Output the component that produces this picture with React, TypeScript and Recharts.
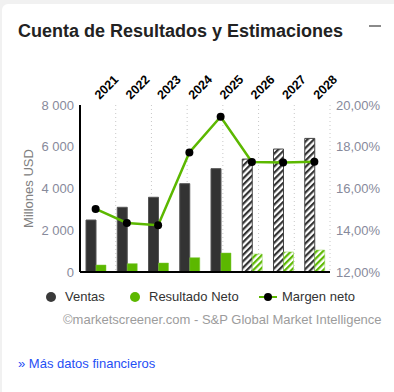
import React from "react";
import {
  ComposedChart,
  Bar,
  Line,
  XAxis,
  YAxis,
  CartesianGrid,
  ReferenceLine,
  Cell,
  Label,
} from "recharts";

const years = ["2021", "2022", "2023", "2024", "2025", "2026", "2027", "2028"];
const ventas = [2490, 3100, 3580, 4230, 4950, 5410, 5890, 6400];
const resultadoNeto = [335, 400, 430, 685, 910, 860, 960, 1050];
const margenNeto = [15.02, 14.35, 14.24, 17.73, 19.44, 17.27, 17.24, 17.28];
const estimated = [false, false, false, false, false, true, true, true];
const leftTicks = [0, 2000, 4000, 6000, 8000];
const rightTicks = [12, 14, 16, 18, 20];
const gridBoundaries = [1, 2, 3, 4, 5, 6, 7];

const data = years.map((y, i) => ({
  year: y,
  ventas: ventas[i],
  neto: resultadoNeto[i],
  margen: margenNeto[i],
  est: estimated[i],
}));

const FONT = "Arial, 'Liberation Sans', sans-serif";

const fmtLeft = (v: number) =>
  v === 0 ? "0" : `${Math.floor(v / 1000)} ${String(v % 1000).padStart(3, "0")}`;
const fmtRight = (v: number) => `${v.toFixed(2).replace(".", ",")}%`;

const YearTick = (props: any) => {
  const { x, y, payload } = props;
  const tx = x + 4;
  return (
    <text
      x={tx}
      y={y}
      transform={`rotate(-45 ${tx} ${y})`}
      textAnchor="start"
      fontFamily={FONT}
      fontWeight="bold"
      fontSize={12.5}
      fill="#000"
    >
      {payload.value}
    </text>
  );
};

export default function App() {
  return (
    <div
      style={{
        position: "absolute",
        left: 0,
        top: 0,
        width: 394,
        height: 392,
        background: "#f1f1f1",
        overflow: "hidden",
        fontFamily: FONT,
      }}
    >
      <div
        style={{
          position: "absolute",
          left: 2,
          top: 4,
          width: 400,
          height: 400,
          background: "#fff",
          borderRadius: 6,
        }}
      />
      <div
        style={{
          position: "absolute",
          left: 18,
          top: 20,
          fontSize: 18,
          fontWeight: "bold",
          color: "#222",
          whiteSpace: "nowrap",
          lineHeight: "22px",
        }}
      >
        Cuenta de Resultados y Estimaciones
      </div>
      <div
        style={{
          position: "absolute",
          left: 369,
          top: 25,
          width: 12,
          height: 2,
          background: "#8a8a8a",
        }}
      />
      <div style={{ position: "absolute", left: 0, top: 0 }}>
        <ComposedChart
          width={394}
          height={280}
          data={data}
          margin={{ top: 75, right: 4, bottom: 8, left: 30 }}
          barGap={0}
        >
          <defs>
            <pattern
              id="hatchDark"
              patternUnits="userSpaceOnUse"
              width="4.5"
              height="4.5"
              patternTransform="rotate(45)"
            >
              <rect width="4.5" height="4.5" fill="#fff" />
              <rect width="2.2" height="4.5" fill="#333" />
            </pattern>
            <pattern
              id="hatchGreen"
              patternUnits="userSpaceOnUse"
              width="4.5"
              height="4.5"
              patternTransform="rotate(45)"
            >
              <rect width="4.5" height="4.5" fill="#fff" />
              <rect width="2.2" height="4.5" fill="#5cb800" />
            </pattern>
          </defs>
          <XAxis
            dataKey="year"
            orientation="top"
            height={30}
            axisLine={false}
            tickLine={false}
            tickSize={0}
            tickMargin={5}
            interval={0}
            tick={<YearTick />}
          />
          <XAxis
            xAxisId="grid"
            type="number"
            domain={[0, years.length]}
            ticks={gridBoundaries}
            hide
          />
          <CartesianGrid
            xAxisId="grid"
            yAxisId="left"
            horizontal={false}
            vertical={true}
            stroke="#c8c8c8"
            strokeDasharray="1 3"
          />
          <YAxis
            yAxisId="left"
            orientation="left"
            width={50}
            domain={[0, 8000]}
            ticks={leftTicks}
            tickFormatter={fmtLeft}
            axisLine={{ stroke: "#000", strokeWidth: 2 }}
            tickLine={false}
            tickSize={0}
            tickMargin={6}
            tick={{ fill: "#878a9b", fontSize: 13, fontFamily: FONT }}
          >
            <Label
              value="Millones USD"
              angle={-90}
              position="insideLeft"
              offset={-2}
              style={{ fill: "#808080", fontSize: 13, fontFamily: FONT, textAnchor: "middle" }}
            />
          </YAxis>
          <YAxis
            yAxisId="right"
            orientation="right"
            width={60}
            domain={[12, 20]}
            ticks={rightTicks}
            tickFormatter={fmtRight}
            axisLine={false}
            tickLine={false}
            tickSize={0}
            tickMargin={6}
            tick={{ fill: "#878a9b", fontSize: 13, fontFamily: FONT, textAnchor: "start" }}
          />
          <Bar
            yAxisId="left"
            dataKey="ventas"
            barSize={10}
            fill="#333"
            isAnimationActive={false}
          >
            {data.map((d, i) => (
              <Cell
                key={`v${i}`}
                fill={d.est ? "url(#hatchDark)" : "#333"}
                stroke={d.est ? "#444" : "#555"}
                strokeWidth={1}
              />
            ))}
          </Bar>
          <Bar
            yAxisId="left"
            dataKey="neto"
            barSize={10}
            fill="#5cb800"
            isAnimationActive={false}
          >
            {data.map((d, i) => (
              <Cell
                key={`n${i}`}
                fill={d.est ? "url(#hatchGreen)" : "#5cb800"}
                stroke={d.est ? "#8fd050" : "#7cc83a"}
                strokeWidth={0.5}
              />
            ))}
          </Bar>
          <ReferenceLine yAxisId="left" y={0} stroke="#000" strokeWidth={2} />
          <Line
            yAxisId="right"
            dataKey="margen"
            type="linear"
            stroke="#5cb800"
            strokeWidth={2.5}
            dot={{ r: 4, fill: "#000", stroke: "#000", strokeWidth: 0 }}
            activeDot={false}
            isAnimationActive={false}
          />
        </ComposedChart>
      </div>
      {/* Legend */}
      <div
        style={{
          position: "absolute",
          left: 0,
          top: 288,
          width: 394,
          height: 18,
          fontSize: 13,
          color: "#333",
        }}
      >
        <div style={{ position: "absolute", left: 46, top: 4, width: 10, height: 10, borderRadius: 5, background: "#3a3a3a" }} />
        <div style={{ position: "absolute", left: 65, top: 1, lineHeight: "16px" }}>Ventas</div>
        <div style={{ position: "absolute", left: 130, top: 4, width: 10, height: 10, borderRadius: 5, background: "#5cb800" }} />
        <div style={{ position: "absolute", left: 149, top: 1, lineHeight: "16px", whiteSpace: "nowrap" }}>Resultado Neto</div>
        <div style={{ position: "absolute", left: 259, top: 8, width: 18, height: 2, background: "#5cb800" }} />
        <div style={{ position: "absolute", left: 264, top: 5, width: 8, height: 8, borderRadius: 4, background: "#000" }} />
        <div style={{ position: "absolute", left: 282, top: 1, lineHeight: "16px", whiteSpace: "nowrap" }}>Margen neto</div>
      </div>
      <div
        style={{
          position: "absolute",
          left: 63,
          top: 312,
          fontSize: 13,
          color: "#9c9c9c",
          whiteSpace: "nowrap",
          lineHeight: "16px",
        }}
      >
        ©marketscreener.com - S&amp;P Global Market Intelligence
      </div>
      <div
        style={{
          position: "absolute",
          left: 18,
          top: 356,
          fontSize: 13,
          color: "#1f4ff5",
          whiteSpace: "nowrap",
          lineHeight: "16px",
        }}
      >
        » Más datos financieros
      </div>
    </div>
  );
}
